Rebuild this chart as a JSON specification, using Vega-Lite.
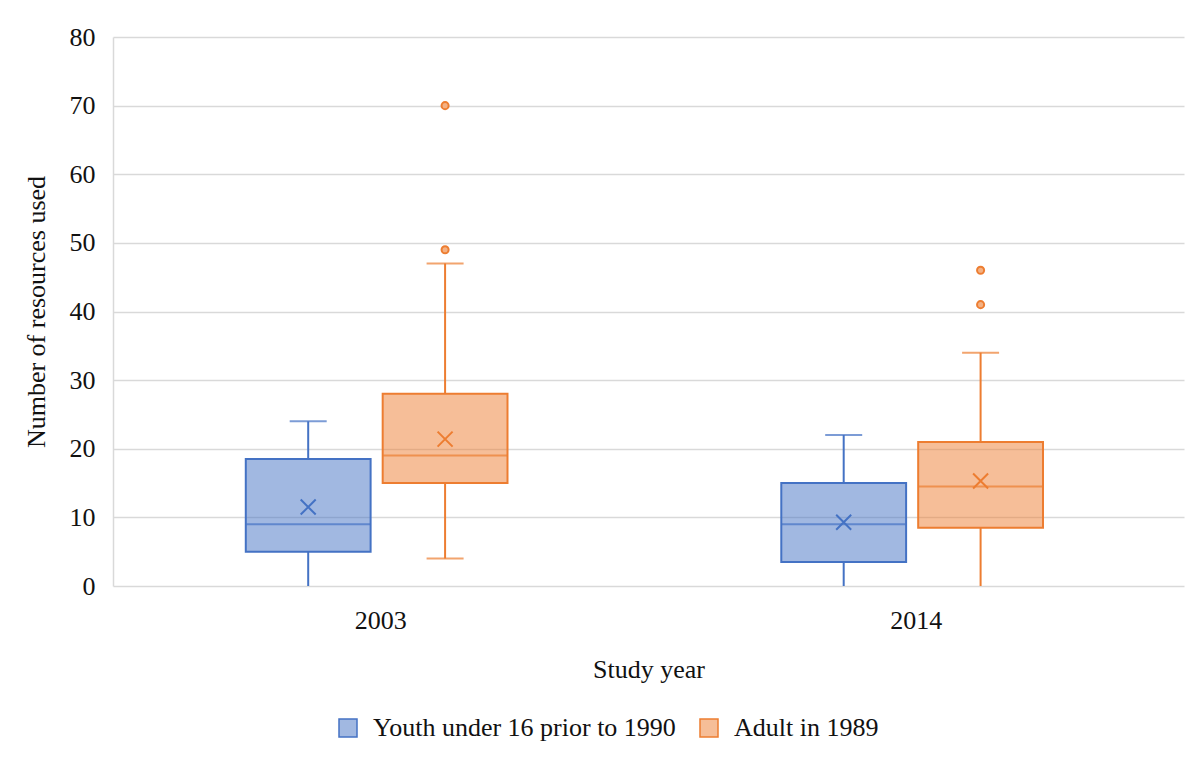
{
  "$schema": "https://vega.github.io/schema/vega-lite/v6.json",
  "width": 1071,
  "height": 549,
  "autosize": {"type": "none"},
  "padding": {"left": 113, "top": 37, "right": 15, "bottom": 188},
  "background": "white",
  "config": {
    "font": "Liberation Serif",
    "view": {"stroke": null},
    "axis": {
      "labelFont": "Liberation Serif",
      "titleFont": "Liberation Serif",
      "labelFontSize": 26,
      "titleFontSize": 26,
      "labelColor": "#111111",
      "titleColor": "#111111",
      "titleFontWeight": "normal",
      "gridColor": "#d9d9d9",
      "gridWidth": 1.5,
      "domainColor": "#d9d9d9",
      "domainWidth": 1.5,
      "tickSize": 0,
      "ticks": false
    },
    "legend": {
      "labelFont": "Liberation Serif",
      "labelFontSize": 26,
      "labelColor": "#111111",
      "labelLimit": 0
    }
  },
  "datasets": {
    "summary": [
      {"year": "2003", "group": "Youth under 16 prior to 1990", "lower": 0, "q1": 5, "median": 9, "q3": 18.5, "upper": 24, "mean": 11.5},
      {"year": "2003", "group": "Adult in 1989", "lower": 4, "q1": 15, "median": 19, "q3": 28, "upper": 47, "mean": 21.4},
      {"year": "2014", "group": "Youth under 16 prior to 1990", "lower": 0, "q1": 3.5, "median": 9, "q3": 15, "upper": 22, "mean": 9.3},
      {"year": "2014", "group": "Adult in 1989", "lower": 0, "q1": 8.5, "median": 14.5, "q3": 21, "upper": 34, "mean": 15.3}
    ],
    "outliers": [
      {"year": "2003", "group": "Adult in 1989", "value": 49},
      {"year": "2003", "group": "Adult in 1989", "value": 70},
      {"year": "2014", "group": "Adult in 1989", "value": 41},
      {"year": "2014", "group": "Adult in 1989", "value": 46}
    ]
  },
  "encoding": {
    "x": {
      "field": "year",
      "type": "nominal",
      "scale": {"paddingInner": 0, "paddingOuter": 0},
      "axis": {
        "title": "Study year",
        "labelAngle": 0,
        "labelPadding": 21,
        "titlePadding": 23,
        "domain": false,
        "grid": false
      }
    },
    "xOffset": {
      "field": "group",
      "type": "nominal",
      "sort": ["Youth under 16 prior to 1990", "Adult in 1989"],
      "scale": {"paddingInner": 0.0882, "paddingOuter": 1.013, "align": 0.485}
    }
  },
  "layer": [
    {
      "data": {"name": "summary"},
      "mark": {"type": "rule", "strokeWidth": 2},
      "encoding": {
        "y": {
          "field": "lower",
          "type": "quantitative",
          "scale": {"domain": [0, 80], "nice": false},
          "axis": {
            "title": "Number of resources used",
            "values": [0, 10, 20, 30, 40, 50, 60, 70, 80],
            "labelPadding": 18,
            "titlePadding": 20,
            "grid": true,
            "domain": true
          }
        },
        "y2": {"field": "q1"},
        "color": {
          "field": "group",
          "type": "nominal",
          "scale": {"domain": ["Adult in 1989", "Youth under 16 prior to 1990"], "range": ["#ED7D31", "#4472C4"]},
          "legend": null
        }
      }
    },
    {
      "data": {"name": "summary"},
      "mark": {"type": "rule", "strokeWidth": 2},
      "encoding": {
        "y": {"field": "q3", "type": "quantitative"},
        "y2": {"field": "upper"},
        "color": {"field": "group", "type": "nominal", "legend": null}
      }
    },
    {
      "data": {"name": "summary"},
      "mark": {"type": "bar", "strokeWidth": 2},
      "encoding": {
        "y": {"field": "q1", "type": "quantitative"},
        "y2": {"field": "q3"},
        "fill": {
          "field": "group",
          "type": "nominal",
          "scale": {"domain": ["Youth under 16 prior to 1990", "Adult in 1989"], "range": ["rgba(68,114,196,0.5)", "rgba(237,125,49,0.5)"]},
          "legend": {
            "title": null,
            "orient": "none",
            "direction": "horizontal",
            "legendX": 222,
            "legendY": 678,
            "symbolType": "square",
            "symbolSize": 324,
            "symbolStrokeWidth": 1.5,
            "labelOffset": 12,
            "columnPadding": 20,
            "labelLimit": 0
          }
        },
        "stroke": {
          "field": "group",
          "type": "nominal",
          "scale": {"domain": ["Youth under 16 prior to 1990", "Adult in 1989"], "range": ["#4472C4", "#ED7D31"]},
          "legend": {
            "title": null,
            "orient": "none",
            "direction": "horizontal",
            "legendX": 222,
            "legendY": 678,
            "symbolType": "square",
            "symbolSize": 324,
            "symbolStrokeWidth": 1.5,
            "labelOffset": 12,
            "columnPadding": 20,
            "labelLimit": 0
          }
        }
      }
    },
    {
      "data": {"name": "summary"},
      "mark": {"type": "tick", "size": 124, "thickness": 2},
      "encoding": {
        "y": {"field": "median", "type": "quantitative"},
        "color": {"field": "group", "type": "nominal", "legend": null}
      }
    },
    {
      "data": {"name": "summary"},
      "mark": {"type": "tick", "size": 37, "thickness": 2},
      "encoding": {
        "y": {"field": "upper", "type": "quantitative"},
        "color": {"field": "group", "type": "nominal", "legend": null}
      }
    },
    {
      "data": {"name": "summary"},
      "transform": [{"filter": "datum.lower > 0"}],
      "mark": {"type": "tick", "size": 37, "thickness": 2},
      "encoding": {
        "y": {"field": "lower", "type": "quantitative"},
        "color": {"field": "group", "type": "nominal", "legend": null}
      }
    },
    {
      "data": {"name": "summary"},
      "mark": {"type": "point", "shape": "M-1,-1L1,1M-1,1L1,-1", "size": 225, "filled": false, "strokeWidth": 2, "opacity": 1},
      "encoding": {
        "y": {"field": "mean", "type": "quantitative"},
        "color": {"field": "group", "type": "nominal", "legend": null}
      }
    },
    {
      "data": {"name": "outliers"},
      "mark": {"type": "point", "shape": "circle", "size": 50, "filled": true, "fill": "#F4B183", "stroke": "#ED7D31", "strokeWidth": 2, "opacity": 1},
      "encoding": {
        "y": {"field": "value", "type": "quantitative"}
      }
    }
  ]
}
